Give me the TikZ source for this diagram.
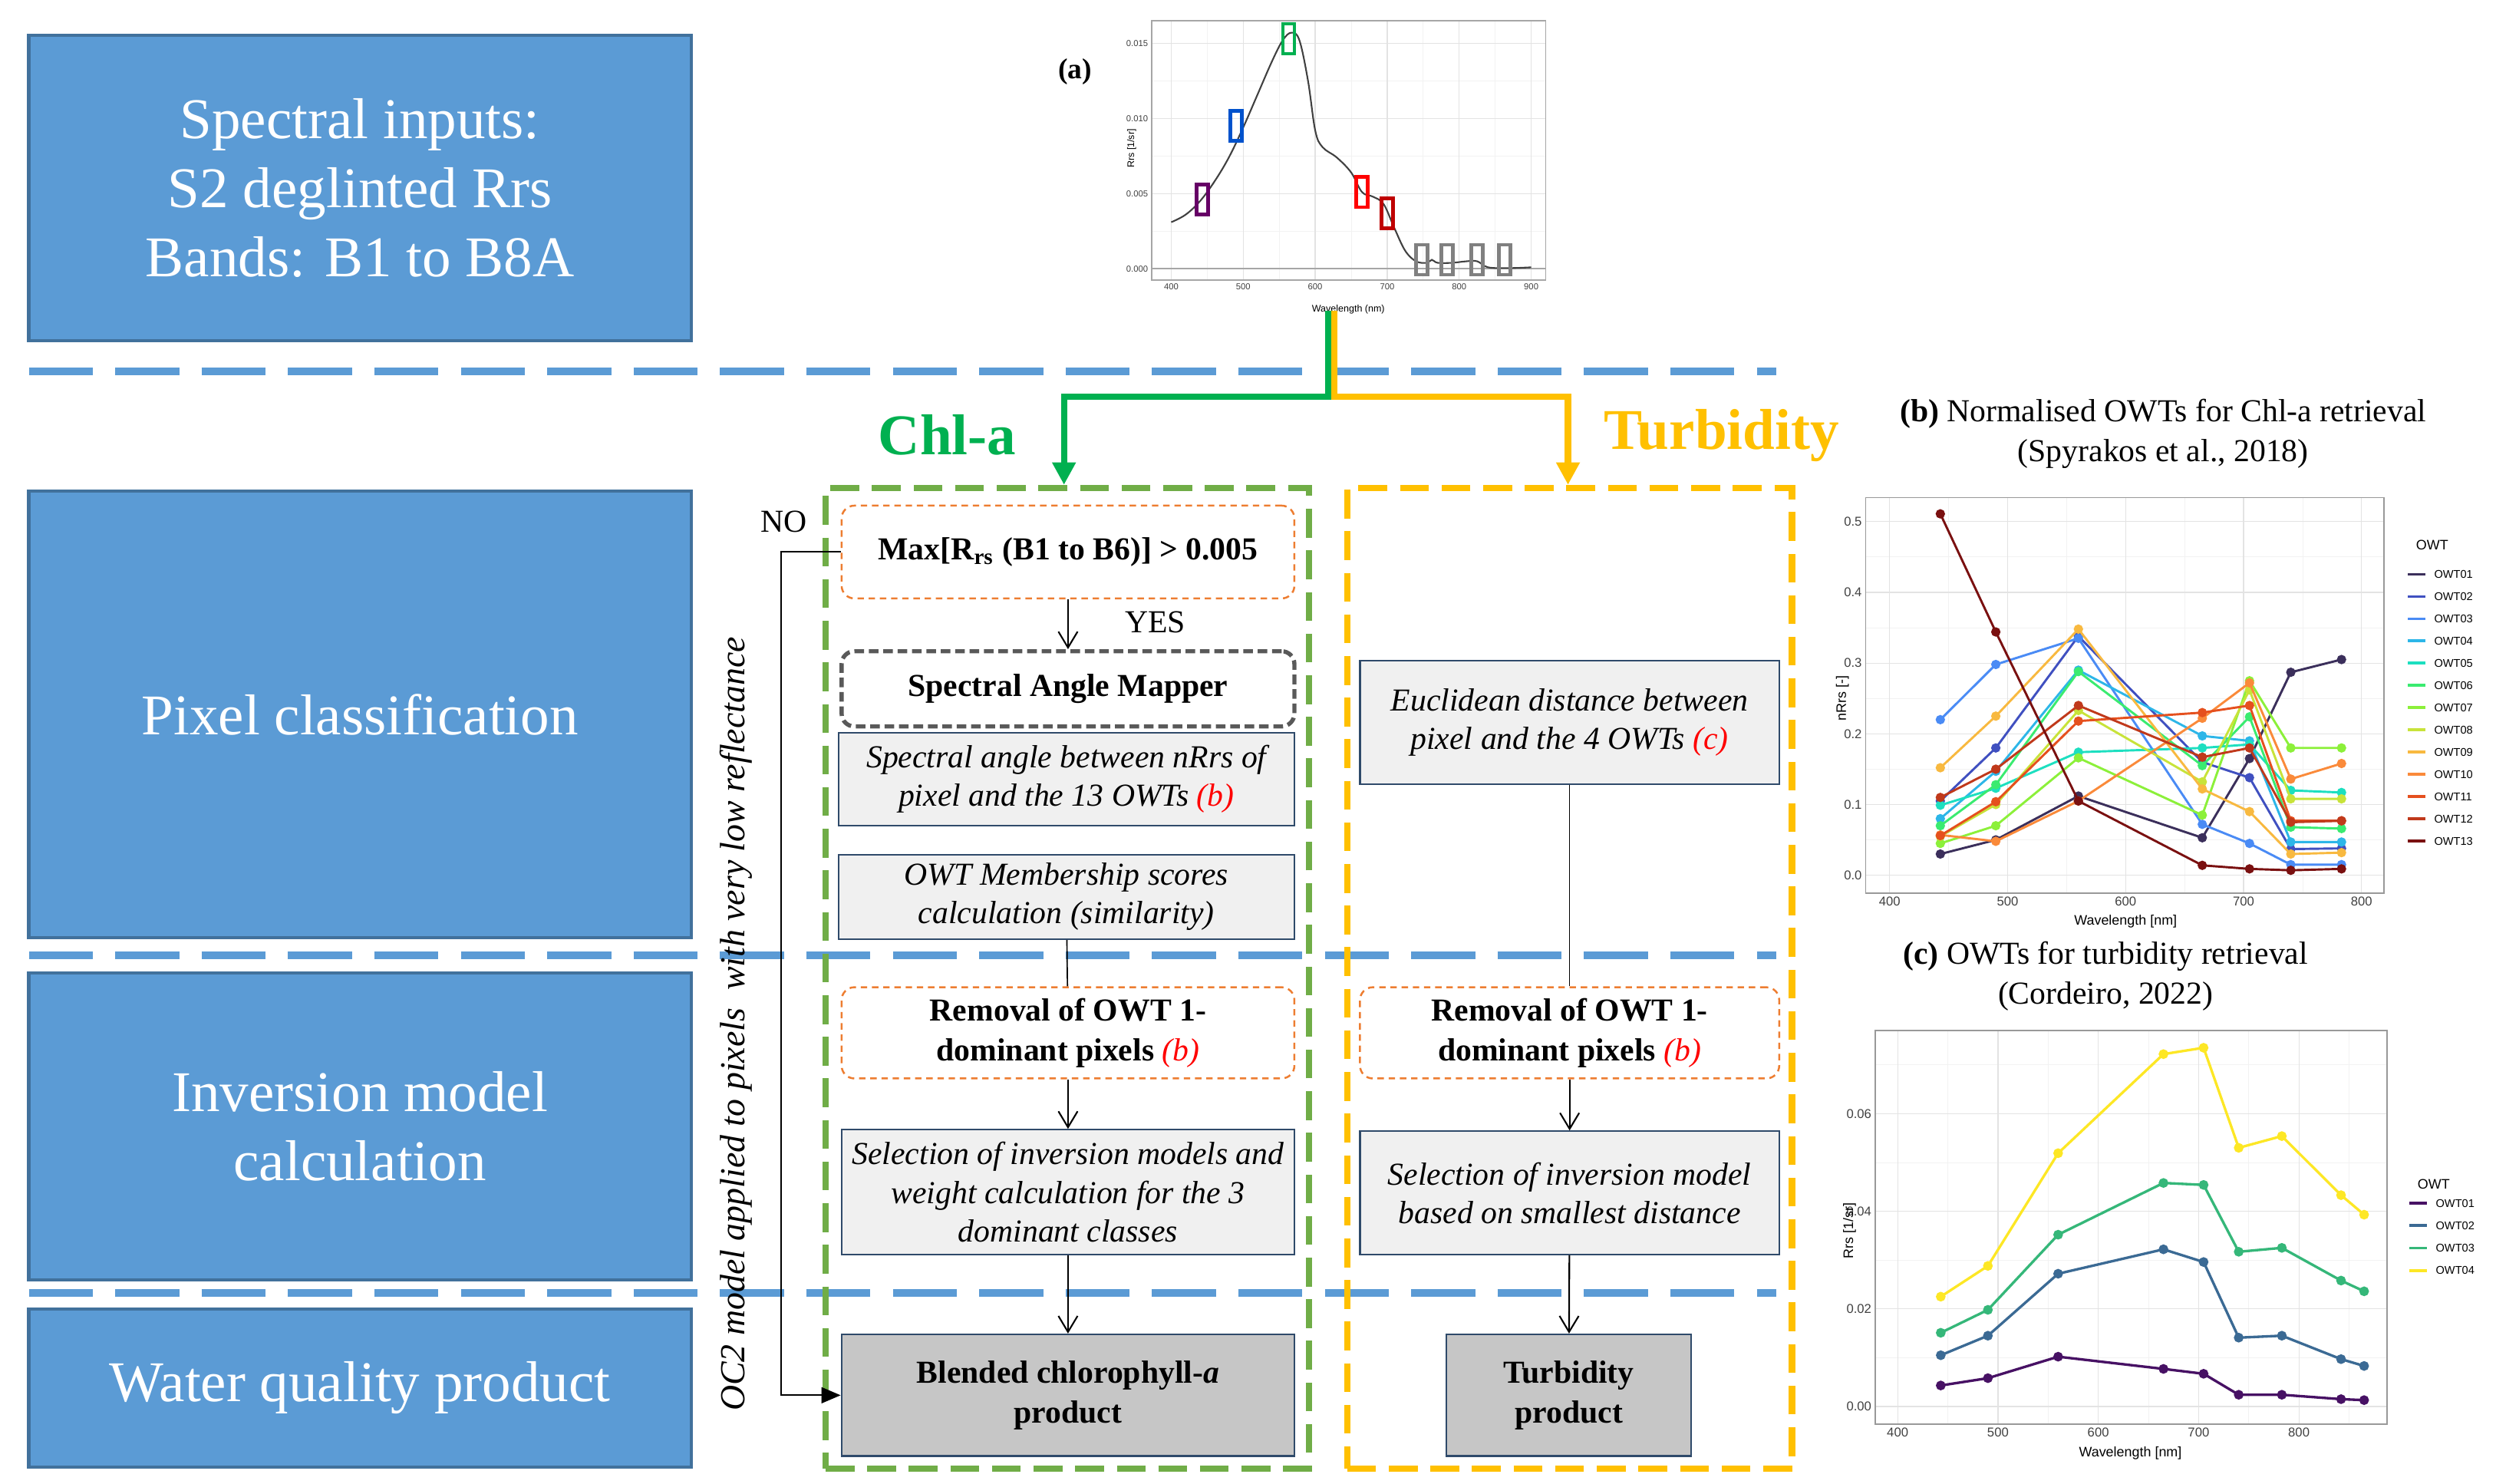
\documentclass[tikz,border=0pt]{standalone}
\usepackage{fontspec}
\setmainfont{Liberation Serif}
\newfontfamily\plotfont{Liberation Sans}
\usetikzlibrary{arrows.meta}
\newcommand{\pxu}{0.5pt}
\definecolor{boxblue}{HTML}{5B9BD5}
\definecolor{boxedge}{HTML}{41719C}
\definecolor{chlg}{HTML}{70AD47}
\definecolor{brg}{HTML}{00B050}
\definecolor{turby}{HTML}{FFC000}
\definecolor{orng}{HTML}{ED7D31}
\definecolor{navy}{HTML}{2F4A6A}
\definecolor{bA}{HTML}{3B2F5B}\definecolor{bB}{HTML}{4050C0}\definecolor{bC}{HTML}{4A8BF5}
\definecolor{bD}{HTML}{2DB6E8}\definecolor{bE}{HTML}{1DDFC0}\definecolor{bF}{HTML}{3AEB70}
\definecolor{bG}{HTML}{8CF03A}\definecolor{bH}{HTML}{C8E33A}\definecolor{bI}{HTML}{F8B940}
\definecolor{bJ}{HTML}{FA8A3A}\definecolor{bK}{HTML}{E5501E}\definecolor{bL}{HTML}{C0391B}
\definecolor{bM}{HTML}{7A1010}
\definecolor{cA}{HTML}{471164}\definecolor{cB}{HTML}{3B6A94}\definecolor{cC}{HTML}{35B779}\definecolor{cD}{HTML}{FDE725}
\tikzset{
  leftbox/.style={draw=boxedge, line width=1pt, fill=boxblue, text=white, align=center, minimum width=414*\pxu, font=\fontsize{18}{21.5}\selectfont},
  sep/.style={boxblue, line width=2.5pt, dash pattern=on 20pt off 7pt},
  proc/.style={draw=navy, line width=0.5pt, fill=gray!12, align=center, font=\fontsize{10}{12}\selectfont\itshape, inner sep=1pt},
  cond/.style={draw=orng, rounded corners=4pt, dash pattern=on 2pt off 1.5pt, line width=0.6pt, align=center, font=\fontsize{10}{12.5}\selectfont\bfseries, inner sep=1pt},
  prod/.style={draw=navy, line width=0.6pt, fill=gray!45, align=center, font=\fontsize{10}{12.5}\selectfont\bfseries},
  arr/.style={-{Straight Barb[length=5pt,width=6pt]}, line width=0.5pt},
  grid1/.style={gray!22, line width=0.3pt},
  grid2/.style={gray!10, line width=0.2pt},
  tick/.style={font=\plotfont\fontsize{4}{4.5}\selectfont, text=black!75, inner sep=1pt},
  ttl/.style={align=center, font=\fontsize{10}{12.5}\selectfont},
}
\begin{document}
\begin{tikzpicture}[x=0.5pt, y=-0.5pt]
\useasboundingbox (0,0) rectangle (1560,927);
% left boxes
\node[leftbox, minimum height=191*\pxu] (L1) at (225,117.5) {Spectral inputs:\\S2 deglinted Rrs\\Bands: B1 to B8A};
\node[leftbox, minimum height=279*\pxu] (L2) at (225,446.5) {Pixel classification};
\node[leftbox, minimum height=192*\pxu] (L3) at (225,704) {Inversion model\\calculation};
\node[leftbox, minimum height=99*\pxu] (L4) at (225,867.5) {Water quality product};
% separators
\draw[sep] (18,232) -- (1110,232);
\draw[sep] (18,597) -- (1110,597);
\draw[sep] (18,808) -- (1110,808);
% dashed column boxes
\node[draw=chlg, line width=2pt, dash pattern=on 9pt off 4pt, minimum width=302*\pxu, minimum height=613*\pxu] (gbox) at (667,611.5) {};
\node[draw=turby, line width=2pt, dash pattern=on 9pt off 4pt, minimum width=278*\pxu, minimum height=613*\pxu] (ybox) at (981,611.5) {};
% ---- plot (a)
\node[font=\fontsize{9}{10}\selectfont\bfseries] (alab) at (672,45) {(a)};
\begin{scope}[shift={(552,168)}, x={(0.225pt,0pt)}, y={(0pt,4.7pt)}]
  \fill[white] (373,-0.75) rectangle (920,16.5);
  \foreach \x in {450,550,650,750,850} \draw[grid2] (\x,-0.75) -- (\x,16.5);
  \foreach \y in {2.5,7.5,12.5} \draw[grid2] (373,\y) -- (920,\y);
  \foreach \x in {400,500,...,900} {\draw[grid1] (\x,-0.75) -- (\x,16.5);
     \node[tick, font=\plotfont\fontsize{2.7}{3}\selectfont, below] at (\x,-0.75) {\x};}
  \foreach \y/\l in {0/0.000,5/0.005,10/0.010,15/0.015} {\draw[grid1] (373,\y) -- (920,\y);
     \node[tick, font=\plotfont\fontsize{2.7}{3}\selectfont, left] at (373,\y) {\l};}
  \draw[gray!70, line width=0.5pt] (373,0) -- (920,0);
  \draw[gray!70, line width=0.4pt] (373,-0.75) rectangle (920,16.5);
  \node[font=\plotfont\fontsize{3}{3.5}\selectfont] at (646,-2.7) {Wavelength (nm)};
  \node[font=\plotfont\fontsize{3}{3.5}\selectfont, rotate=90] at (345,8) {Rrs [1/sr]};
  \draw[black!75, line width=0.5pt] plot[smooth, tension=0.6] coordinates {(400,3.1) (420,3.6) (440,4.5) (460,5.8) (480,7.4) (500,9.4) (520,11.6) (540,13.8) (555,15.2) (567,15.7) (578,15.2) (590,12.5) (600,9.2) (610,8.1) (630,7.4) (650,6.4) (665,5.1) (680,4.8) (695,4.3) (710,2.7) (725,1.2) (740,0.5) (755,0.4) (762,0.6) (770,0.4) (790,0.4) (810,0.5) (825,0.5) (840,0.1) (870,0.05) (900,0.1)};
  \foreach \w/\r/\c in {443/4.6/violet!80!black, 490/9.5/blue!60!cyan!80!black, 563/15.3/brg, 665/5.1/red, 700/3.7/red!75!black, 748/0.6/gray, 783/0.6/gray, 825/0.6/gray, 863/0.6/gray}
    \draw[\c, line width=1.1pt] (\w-8,\r-1) rectangle (\w+8,\r+1);
\end{scope}
\coordinate (abot) at (832,194);
% branch arrows
\draw[brg, line width=2pt, -{Triangle[length=7pt,width=7pt]}] ([xshift=-1pt]abot) |- (665,248) -- (gbox.north -| 665,0);
\draw[turby, line width=2pt, -{Triangle[length=7pt,width=7pt]}] ([xshift=1pt]abot) |- (980,248) -- (ybox.north -| 980,0);
\node[text=brg, font=\fontsize{18}{20}\selectfont\bfseries] (chl) at (592,272) {Chl-a};
\node[text=turby, font=\fontsize{18}{20}\selectfont\bfseries] (tur) at (1076,272) {Turbidity};
% Chl-a column
\node[cond, minimum width=283*\pxu, minimum height=58*\pxu] (n1) at (667.5,345) {Max[R\textsubscript{rs} (B1 to B6)] > 0.005};
\node[draw=black!65, rounded corners=4pt, dash pattern=on 3pt off 1.5pt, line width=1.3pt, font=\fontsize{10}{12}\selectfont\bfseries, minimum width=283*\pxu, minimum height=47*\pxu] (n2) at (667.5,430.5) {Spectral Angle Mapper};
\node[proc, minimum width=285*\pxu, minimum height=58*\pxu] (n3) at (666.5,487) {Spectral angle between nRrs of\\pixel and the 13 OWTs \textcolor{red}{(b)}};
\node[proc, minimum width=285*\pxu, minimum height=53*\pxu] (n4) at (666.5,560.5) {OWT Membership scores\\calculation (similarity)};
\node[cond, minimum width=283*\pxu, minimum height=57*\pxu] (n5) at (667.5,645.5) {Removal of OWT 1-\\dominant pixels \textcolor{red}{\normalfont\itshape(b)}};
\node[proc, minimum width=283*\pxu, minimum height=78*\pxu] (n6) at (667.5,745) {Selection of inversion models and\\weight calculation for the 3\\dominant classes};
\node[prod, minimum width=283*\pxu, minimum height=76*\pxu] (n7) at (667.5,872) {Blended chlorophyll-\textit{a}\\product};
\draw[arr] (n1) -- (n2);
\node[font=\fontsize{10}{12}\selectfont] (yes) at (722,389) {YES};
\draw (n4) -- (n5);
\draw[arr] (n5) -- (n6);
\draw[arr] (n6) -- (n7);
% NO path
\node[font=\fontsize{10}{12}\selectfont] (no) at (490,326) {NO};
\coordinate (nocorner) at (488,345);
\draw[-{Triangle[length=6pt,width=5pt]}, line width=0.5pt] (n1.west) -- (nocorner) |- (n7.west);
\node[rotate=90, font=\fontsize{11}{13}\selectfont\itshape] (oc2) at (460,640) {OC2 model applied to pixels\ \ with very low reflectance};
% Turbidity column
\node[proc, minimum width=262*\pxu, minimum height=77*\pxu] (t1) at (981,451.5) {Euclidean distance between\\pixel and the 4 OWTs \textcolor{red}{(c)}};
\node[cond, minimum width=262*\pxu, minimum height=57*\pxu] (t2) at (981,645.5) {Removal of OWT 1-\\dominant pixels \textcolor{red}{\normalfont\itshape(b)}};
\node[proc, minimum width=262*\pxu, minimum height=77*\pxu] (t3) at (981,745.5) {Selection of inversion model\\based on smallest distance};
\node[prod, minimum width=153*\pxu, minimum height=76*\pxu] (t4) at (980.5,872) {Turbidity\\product};
\draw (t1) -- (t2);
\draw[arr] (t2) -- (t3);
\draw[arr] (t3) -- (t4);
% ---- plot (b)
\node[ttl] (btitle) at (1352,271) {\textbf{(b)} Normalised OWTs for Chl-a retrieval\\(Spyrakos et al., 2018)};
\begin{scope}[shift={(886,547)}, x={(0.36875pt,0pt)}, y={(0pt,221pt)}]
  \foreach \x in {450,550,650,750} \draw[grid2] (\x,-0.025) -- (\x,0.534);
  \foreach \y in {0.05,0.15,0.25,0.35,0.45} \draw[grid2] (379.7,\y) -- (819,\y);
  \foreach \x in {400,500,...,800} {\draw[grid1] (\x,-0.025) -- (\x,0.534);
     \node[tick, below] at (\x,-0.025) {\x};}
  \foreach \y in {0.0,0.1,0.2,0.3,0.4,0.5} {\draw[grid1] (379.7,\y) -- (819,\y);
     \node[tick, left] at (379.7,\y) {\y};}
  \draw[gray!80, line width=0.4pt] (379.7,-0.025) rectangle (819,0.534);
  \node[font=\plotfont\fontsize{4.3}{5}\selectfont] at (600,-0.065) {Wavelength [nm]};
  \node[font=\plotfont\fontsize{4.3}{5}\selectfont, rotate=90] at (360,0.25) {nRrs [-]};
  \foreach \c/\d in {
   bA/{(443,0.03) (490,0.05) (560,0.112) (665,0.053) (705,0.165) (740,0.287) (783,0.305)},
   bB/{(443,0.105) (490,0.18) (560,0.338) (665,0.16) (705,0.138) (740,0.037) (783,0.038)},
   bC/{(443,0.22) (490,0.298) (560,0.335) (665,0.072) (705,0.045) (740,0.015) (783,0.015)},
   bD/{(443,0.08) (490,0.147) (560,0.29) (665,0.197) (705,0.19) (740,0.047) (783,0.047)},
   bE/{(443,0.099) (490,0.123) (560,0.174) (665,0.18) (705,0.185) (740,0.12) (783,0.117)},
   bF/{(443,0.07) (490,0.128) (560,0.288) (665,0.155) (705,0.224) (740,0.068) (783,0.066)},
   bG/{(443,0.045) (490,0.07) (560,0.166) (665,0.085) (705,0.275) (740,0.18) (783,0.18)},
   bH/{(443,0.055) (490,0.10) (560,0.233) (665,0.132) (705,0.262) (740,0.108) (783,0.108)},
   bI/{(443,0.152) (490,0.225) (560,0.348) (665,0.122) (705,0.09) (740,0.03) (783,0.032)},
   bJ/{(443,0.057) (490,0.048) (560,0.105) (665,0.222) (705,0.272) (740,0.136) (783,0.158)},
   bK/{(443,0.056) (490,0.104) (560,0.218) (665,0.23) (705,0.24) (740,0.077) (783,0.077)},
   bL/{(443,0.11) (490,0.15) (560,0.24) (665,0.167) (705,0.18) (740,0.075) (783,0.077)},
   bM/{(443,0.511) (490,0.344) (560,0.105) (665,0.014) (705,0.009) (740,0.007) (783,0.009)}}
   \draw[\c, line width=0.7pt] plot[mark=*, mark size=1.1pt] coordinates {\d};
\end{scope}
\node[font=\plotfont\fontsize{4.3}{5}\selectfont, anchor=west] (bowt) at (1503,340.5) {OWT};
\foreach \c/\n [count=\i] in {bA/OWT01,bB/OWT02,bC/OWT03,bD/OWT04,bE/OWT05,bF/OWT06,bG/OWT07,bH/OWT08,bI/OWT09,bJ/OWT10,bK/OWT11,bL/OWT12,bM/OWT13} {
  \draw[\c, line width=0.9pt] (1505,345+13.9*\i) -- (1516,345+13.9*\i);
  \node[font=\plotfont\fontsize{3.5}{4}\selectfont, anchor=west, inner sep=0pt] at (1521,345+13.9*\i) {\n};}
% ---- plot (c)
\node[ttl] (ctitle) at (1316,610) {\textbf{(c)} OWTs for turbidity retrieval\\(Cordeiro, 2022)};
\begin{scope}[shift={(935.2,879)}, x={(0.3135pt,0pt)}, y={(0pt,1.525pt)}]
  \foreach \x in {450,550,650,750,850} \draw[grid2] (\x,-3.6) -- (\x,77);
  \foreach \y in {10,30,50,70} \draw[grid2] (377.7,\y) -- (888,\y);
  \foreach \x in {400,500,...,800} {\draw[grid1] (\x,-3.6) -- (\x,77);
     \node[tick, below] at (\x,-3.6) {\x};}
  \foreach \y/\l in {0/0.00,20/0.02,40/0.04,60/0.06} {\draw[grid1] (377.7,\y) -- (888,\y);
     \node[tick, left] at (377.7,\y) {\l};}
  \draw[gray!80, line width=0.4pt] (377.7,-3.6) rectangle (888,77);
  \node[font=\plotfont\fontsize{4.3}{5}\selectfont] at (632,-9.5) {Wavelength [nm]};
  \node[font=\plotfont\fontsize{4.3}{5}\selectfont, rotate=90] at (352,36) {Rrs [1/sr]};
  \foreach \c/\d in {
   cA/{(443,4.3) (490,5.8) (560,10.2) (665,7.7) (705,6.7) (740,2.4) (783,2.4) (842,1.5) (865,1.3)},
   cB/{(443,10.5) (490,14.5) (560,27.2) (665,32.2) (705,29.6) (740,14.1) (783,14.5) (842,9.7) (865,8.3)},
   cC/{(443,15.1) (490,19.8) (560,35.2) (665,45.8) (705,45.4) (740,31.7) (783,32.5) (842,25.8) (865,23.6)},
   cD/{(443,22.5) (490,28.8) (560,51.9) (665,72.2) (705,73.5) (740,53.0) (783,55.4) (842,43.3) (865,39.3)}}
   \draw[\c, line width=0.8pt] plot[mark=*, mark size=1.1pt] coordinates {\d};
\end{scope}
\node[font=\plotfont\fontsize{4.3}{5}\selectfont, anchor=west] (cowt) at (1504,740) {OWT};
\foreach \c/\n [count=\i] in {cA/OWT01,cB/OWT02,cC/OWT03,cD/OWT04} {
  \draw[\c, line width=0.9pt] (1506,738+14*\i) -- (1517,738+14*\i);
  \node[font=\plotfont\fontsize{3.5}{4}\selectfont, anchor=west, inner sep=0pt] at (1522,738+14*\i) {\n};}
\end{tikzpicture}
\end{document}
